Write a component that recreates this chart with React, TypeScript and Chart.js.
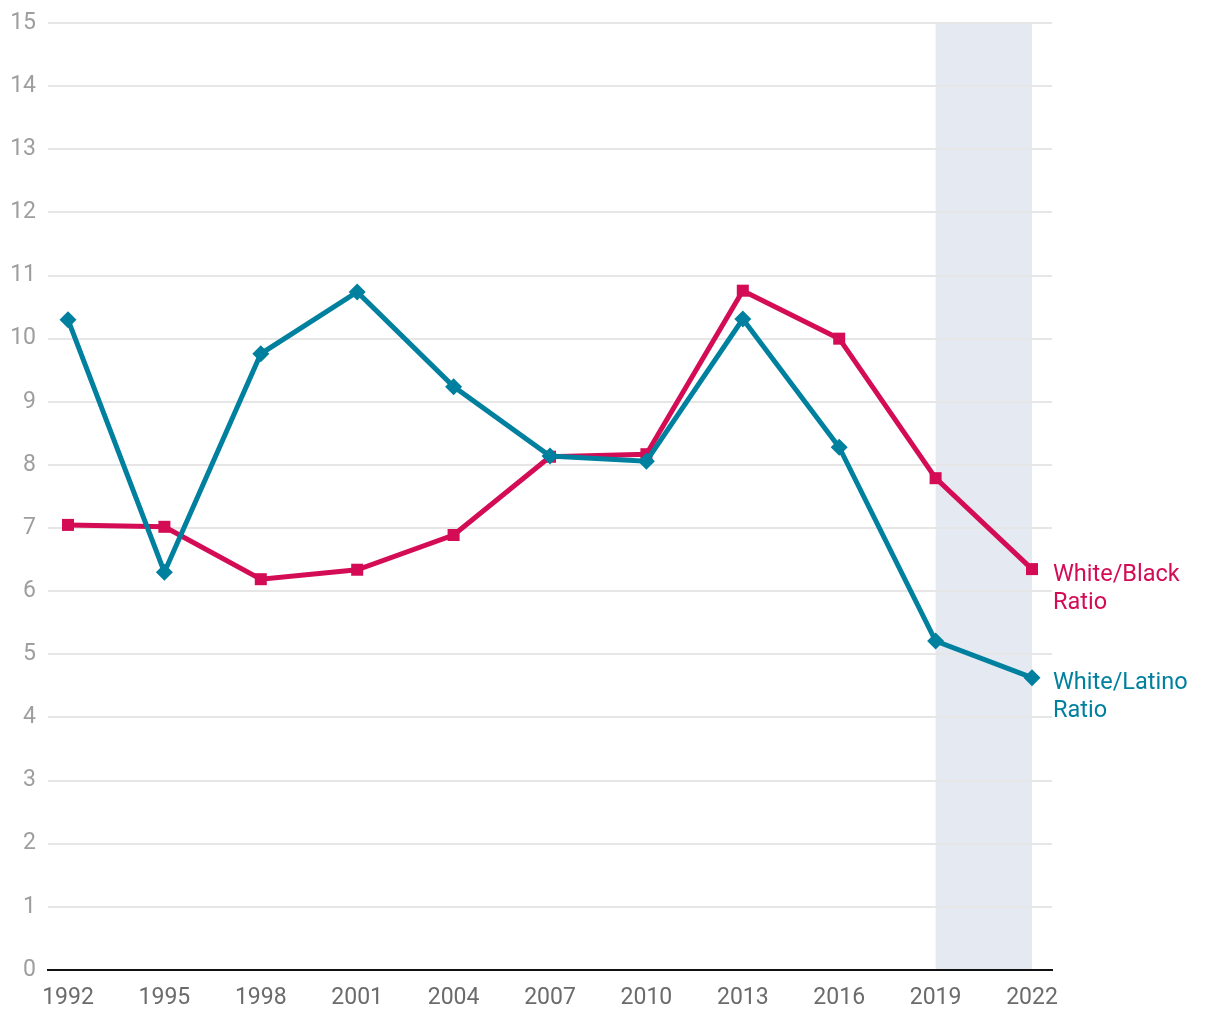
import React, { useEffect, useRef } from "react";
import { Chart, registerables } from "chart.js";

Chart.register(...registerables);

const years = [1992, 1995, 1998, 2001, 2004, 2007, 2010, 2013, 2016, 2019, 2022];
const whiteLatino = [10.3, 6.3, 9.76, 10.74, 9.24, 8.14, 8.06, 10.31, 8.28, 5.21, 4.63];
const whiteBlack = [7.05, 7.02, 6.19, 6.34, 6.89, 8.13, 8.17, 10.76, 10.0, 7.79, 6.35];
const yTicks = [0, 1, 2, 3, 4, 5, 6, 7, 8, 9, 10, 11, 12, 13, 14, 15];
const shadeRange = [2019, 2022];
const latinoLabel = ["White/Latino", "Ratio"];
const blackLabel = ["White/Black", "Ratio"];

const TEAL = "#00809f";
const CRIMSON = "#d40c55";
const FONT = "Roboto, 'Noto Sans', sans-serif";

export default function App() {
  const ref = useRef<HTMLCanvasElement | null>(null);

  useEffect(() => {
    if (!ref.current) return;
    const shadePlugin = {
      id: "shade",
      beforeDraw(chart: any) {
        const { ctx, chartArea, scales } = chart;
        const x0 = scales.x.getPixelForValue(shadeRange[0]);
        const x1 = scales.x.getPixelForValue(shadeRange[1]);
        ctx.save();
        ctx.fillStyle = "#e5eaf2";
        ctx.fillRect(x0, chartArea.top, x1 - x0, chartArea.bottom - chartArea.top);
        ctx.restore();
      },
      afterDraw(chart: any) {
        const { ctx, scales, chartArea } = chart;
        ctx.save();
        ctx.font = `23.5px ${FONT}`;
        ctx.textAlign = "left";
        ctx.textBaseline = "middle";
        const x = chartArea.right + 1;
        const yb = scales.y.getPixelForValue(whiteBlack[whiteBlack.length - 1]);
        ctx.fillStyle = CRIMSON;
        blackLabel.forEach((t, i) => ctx.fillText(t, x, yb + 6.5 + i * 28));
        const yl = scales.y.getPixelForValue(whiteLatino[whiteLatino.length - 1]);
        ctx.fillStyle = TEAL;
        latinoLabel.forEach((t, i) => ctx.fillText(t, x, yl + 5.5 + i * 28));
        ctx.restore();
      },
    };

    const pad = 0.622;
    const chart = new Chart(ref.current, {
      type: "line",
      data: {
        datasets: [
          {
            label: "White/Latino Ratio",
            data: years.map((y, i) => ({ x: y, y: whiteLatino[i] })),
            borderColor: TEAL,
            backgroundColor: TEAL,
            borderWidth: 5,
            pointStyle: "rectRot",
            pointRadius: 8.5,
            pointBorderWidth: 0,
            tension: 0,
          },
          {
            label: "White/Black Ratio",
            data: years.map((y, i) => ({ x: y, y: whiteBlack[i] })),
            borderColor: CRIMSON,
            backgroundColor: CRIMSON,
            borderWidth: 5,
            pointStyle: "rect",
            pointRadius: 8.5,
            pointBorderWidth: 0,
            tension: 0,
          },
        ],
      },
      options: {
        animation: false,
        responsive: false,
        maintainAspectRatio: false,
        layout: { padding: { top: 23, right: 168, left: 0, bottom: 0 } },
        plugins: { legend: { display: false }, tooltip: { enabled: false } },
        scales: {
          x: {
            type: "linear",
            min: years[0] - pad,
            max: years[years.length - 1] + pad,
            afterBuildTicks: (scale: any) => {
              scale.ticks = years.map((v) => ({ value: v }));
            },
            afterFit: (scale: any) => {
              scale.height = 50;
              scale.paddingLeft = 0;
              scale.paddingRight = 0;
            },
            grid: { display: false, drawTicks: false },
            border: { display: true, color: "#111111", width: 2 },
            ticks: {
              color: "#6b6b6b",
              font: { family: FONT, size: 23 },
              padding: 14,
              maxRotation: 0,
              autoSkip: false,
              callback: (v: any) => String(v),
            },
          },
          y: {
            min: 0,
            max: 15,
            afterBuildTicks: (scale: any) => {
              scale.ticks = yTicks.map((v) => ({ value: v }));
            },
            afterFit: (scale: any) => {
              scale.width = 48;
              scale.paddingTop = 0;
              scale.paddingBottom = 0;
            },
            grid: { color: "#e6e6e6", lineWidth: 2, drawTicks: false },
            border: { display: false },
            ticks: {
              color: "#9e9e9e",
              font: { family: FONT, size: 23 },
              padding: 12,
            },
          },
        },
      },
      plugins: [shadePlugin],
    });
    return () => chart.destroy();
  }, []);

  return (
    <div style={{ position: "absolute", left: 0, top: 0, width: 1220, height: 1020, background: "#fff" }}>
      <canvas ref={ref} width={1220} height={1020} style={{ width: 1220, height: 1020 }} />
    </div>
  );
}
